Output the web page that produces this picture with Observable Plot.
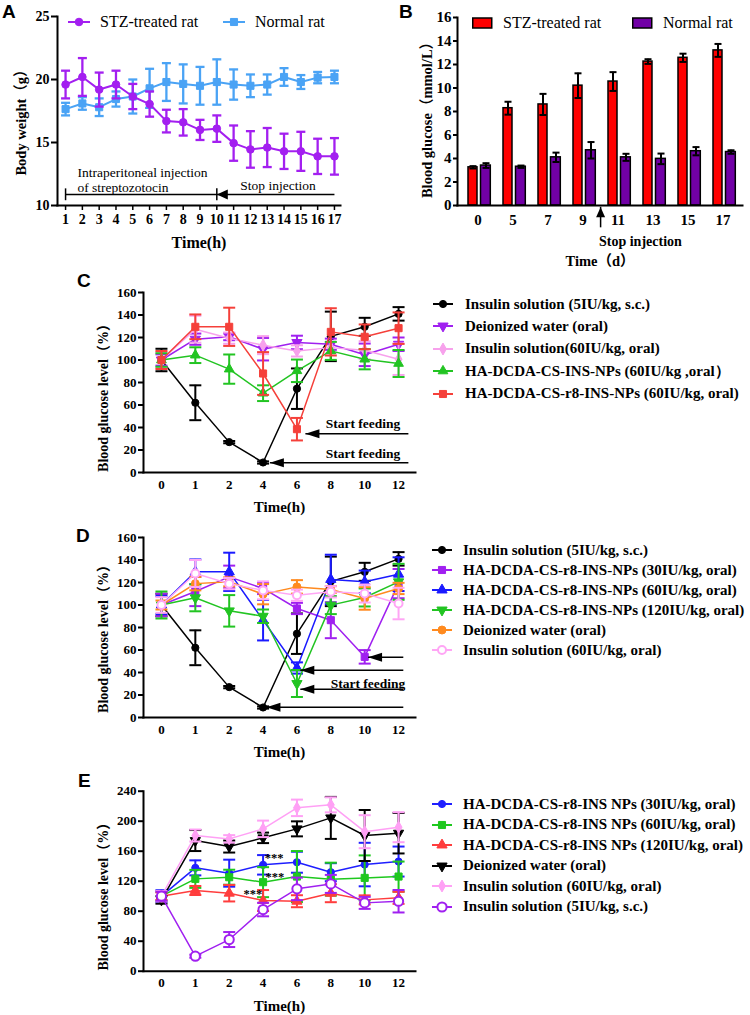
<!DOCTYPE html>
<html>
<head>
<meta charset="utf-8">
<script src="https://cdn.jsdelivr.net/npm/d3@7"></script>
<script src="https://cdn.jsdelivr.net/npm/@observablehq/plot@0.6"></script>
<style>
html,body{margin:0;padding:0;background:#fff;}
#fig{position:relative;width:750px;height:1015px;overflow:hidden;background:#fff;}
.letter{position:absolute;font-family:"Liberation Sans",Arial,sans-serif;font-weight:bold;font-size:19px;line-height:19px;color:#000;}
.leg{position:absolute;display:flex;align-items:center;white-space:nowrap;font-family:"Liberation Serif","Times New Roman",serif;color:#000;}
.leg svg{display:block;flex:none;}
</style>
</head>
<body>
<div id="fig"></div>
<script>
// ================= DATA =================
// Panel A – body weight (g)
const daysA = [1,2,3,4,5,6,7,8,9,10,11,12,13,14,15,16,17];
const stzWeight       = [19.6,20.2,19.2,19.6,18.65,18.05,16.7,16.6,16.0,16.1,14.95,14.45,14.6,14.3,14.3,13.9,13.9];
const stzWeightErr    = [1.1,1.5,1.35,1.1,1.0,1.0,0.9,1.05,0.8,1.05,1.4,1.45,1.55,1.4,1.55,1.4,1.45];
const normalWeight    = [17.65,18.1,17.8,18.45,18.65,19.3,19.8,19.65,19.5,19.8,19.6,19.5,19.6,20.2,19.8,20.15,20.2];
const normalWeightErr = [0.5,0.5,0.7,0.6,1.35,1.55,1.5,1.55,1.5,1.8,1.2,0.9,0.8,0.7,0.55,0.45,0.5];
const groupNames = ["STZ-treated rat","Normal rat"];
const injectionSpanA = [{from:1, to:10, y:10.87, capLow:10.38, capHigh:11.32}];
const stopArrowA = [{from:17, to:10, y:10.87}];
const notesA = [
  {x:1.71, y:12.64, text:"Intraperitoneal injection"},
  {x:1.71, y:11.45, text:"of streptozotocin"},
  {x:11.4, y:11.59, text:"Stop injection"}
];

// Panel B – blood glucose (mmol/L)
const daysB = ["0","5","7","9","11","13","15","17"];
const stzGlucose       = [3.25,8.28,8.6,10.2,10.55,12.25,12.57,13.2];
const stzGlucoseErr    = [0.1,0.55,0.9,1.05,0.8,0.2,0.35,0.55];
const normalGlucose    = [3.4,3.3,4.1,4.7,4.1,3.97,4.62,4.55];
const normalGlucoseErr = [0.2,0.1,0.4,0.7,0.3,0.45,0.35,0.15];
const stopArrowB = [{day:"9", tip:-0.15, tail:-1.9, labelY:-3.1, text:"Stop injection"}];

// Panels C–E – blood glucose level (%)
const timeLabels = ["0","1","2","4","6","8","10","12"];

const cNames = ["Insulin solution (5IU/kg, s.c.)","Deionized water (oral)","Insulin solution(60IU/kg, oral)","HA-DCDA-CS-INS-NPs (60IU/kg ,oral）","HA-DCDA-CS-r8-INS-NPs (60IU/kg, oral)"];
const cInsulinSC      = [100,62,27,8.9,74.5,121,129.5,141];
const cInsulinSCErr   = [10,15.5,1,1,18,22,8,6];
const cWater          = [100,118.5,120.6,109.6,115.6,114,104.6,114];
const cWaterErr       = [5,5,3,10,6,5,10,6];
const cInsulinOral    = [100,127.4,119.4,113.2,108.1,111,108.7,100.7];
const cInsulinOralErr = [7,12,5,8,5,5,8,14];
const cNPs            = [100,104.3,91.9,70.5,90.4,108.1,100.7,96.9];
const cNPsErr         = [6,7,13,7,10,8,9,12];
const cR8NPs          = [100,129.5,129.5,88,38.5,125,120.6,128.3];
const cR8NPsErr       = [8,11,17,19,10,21,11,14];
const feedArrowsC = [{from:7.29, to:4.25, y:34.4},{from:7.29, to:3.2, y:8.6}];
const feedTextC = [{x:7.05, y:43.3, text:"Start feeding"},{x:7.05, y:16.3, text:"Start feeding"}];

const dNames = ["Insulin solution (5IU/kg, s.c.)","HA-DCDA-CS-r8-INS-NPs (30IU/kg, oral)","HA-DCDA-CS-r8-INS-NPs (60IU/kg, oral)","HA-DCDA-CS-r8-INS-NPs (120IU/kg, oral)","Deionized water (oral)","Insulin solution (60IU/kg, oral)"];
const dInsulinSC      = [100,62,27,8.9,74.5,121,129.5,141];
const dInsulinSCErr   = [10,15.5,1,1,18,22,8,6];
const dR8Low          = [100,112,125,114.7,96.9,86.5,53.9,119];
const dR8LowErr       = [10,13,10,5,5,16,6,13];
const dR8Mid          = [100,129.5,129.5,86.5,44,122.7,120.6,127.4];
const dR8MidErr       = [8,11,17,18,5,22,10,15];
const dR8High         = [100,106.4,94.8,90,30.2,99.9,106.7,120.6];
const dR8HighErr      = [12,12,14,6,12,8,8,16];
const dWater          = [100,119,120.6,109.6,116.1,113.8,105.8,114.7];
const dWaterErr       = [4,6,4,9,6,3,10,5];
const dInsulinOral    = [100,128,119,113,108.7,111.7,110.2,101.3];
const dInsulinOralErr = [7,12,5,8,5,5,8,14];
const feedArrowsD = [{from:7.14, to:6.1, y:53.6},{from:7.14, to:4.1, y:42},{from:7.14, to:4.1, y:25.2},{from:7.14, to:3.1, y:9.2}];
const feedTextD = [{x:7.2, y:30.2, text:"Start feeding"}];

const eNames = ["HA-DCDA-CS-r8-INS NPs (30IU/kg, oral)","HA-DCDA-CS-r8-INS NPs (60IU/kg, oral)","HA-DCDA-CS-r8-INS NPs (120IU/kg, oral)","Deionized water (oral)","Insulin solution (60IU/kg, oral)","Insulin solution (5IU/kg, s.c.)"];
const eR8Low          = [100,137.8,130.7,141.8,145.3,132,142.2,146.2];
const eR8LowErr       = [8,10,18,13,14,12,29,20];
const eR8Mid          = [100,123.1,125.3,118.7,126.2,122.7,124.4,126.2];
const eR8MidErr       = [6,12,10,20,34,22,30,20];
const eR8High         = [100,107.6,104,94.2,93.3,104,95.1,97.8];
const eR8HighErr      = [5,6,11,14,8,12,6,8];
const eWater          = [95,174.2,166.2,177.8,189.8,204.4,180.9,184];
const eWaterErr       = [5,14,8,7,10,28,34,27];
const eInsulinOral    = [100,180.9,176.4,189.8,217.8,221.8,186,192];
const eInsulinOralErr = [7,8,5,11,11,10,22,20];
const eInsulinSC      = [100,20,42.2,82.2,109.8,116.4,91.1,93.3];
const eInsulinSCErr   = [6,2,10,9,15,12,8,15];
const starsE = [{x:3.33, y:151, text:"***"},{x:3.35, y:126, text:"***"},{x:2.7, y:103, text:"***"}];

// ================= HELPERS =================
const SERIF = '"Liberation Serif","Times New Roman",Times,"Noto Sans CJK SC",serif';
const fig = document.getElementById("fig");
function place(node, left, top){ node.style.position="absolute"; node.style.left=left+"px"; node.style.top=top+"px"; fig.appendChild(node); return node; }
function letter(t, left, top){ const d=document.createElement("div"); d.className="letter"; d.textContent=t; d.style.left=left+"px"; d.style.top=top+"px"; fig.appendChild(d); }

const capSym = (w) => ({draw(ctx){ ctx.moveTo(-w,0); ctx.lineTo(w,0); }});
const triDown = {draw(ctx,size){ const y=-Math.sqrt(size/(Math.sqrt(3)*3)); const x=Math.sqrt(3)*y; ctx.moveTo(0,-2*y); ctx.lineTo(x,y); ctx.lineTo(-x,y); ctx.closePath(); }};
const triLeft = (len,half) => ({draw(ctx){ ctx.moveTo(0,0); ctx.lineTo(len,-half); ctx.lineTo(len,half); ctx.closePath(); }});
const triUp = (len,half) => ({draw(ctx){ ctx.moveTo(0,0); ctx.lineTo(-half,len); ctx.lineTo(half,len); ctx.closePath(); }});
const SYM = {circle:d3.symbolCircle, square:d3.symbolSquare, triangle:d3.symbolTriangle, diamond:d3.symbolDiamond, triDown:triDown};

function baseStyle(fs){ return {fontFamily:SERIF, fontSize:fs+"px", fontWeight:"bold", background:"transparent", overflow:"visible", color:"#000"}; }
function xTitle(t, dy, fs){ return Plot.text([{t}],{text:"t", frameAnchor:"bottom", textAnchor:"middle", lineAnchor:"middle", dy, fontSize:fs}); }
function yTitle(t, dx, dy, fs){ return Plot.text([{t}],{text:"t", frameAnchor:"left", textAnchor:"middle", lineAnchor:"middle", dx, dy, rotate:-90, fontSize:fs}); }

function seriesMarks(xs, values, errors, st){
  const rows = values.map((v,i)=>({x:xs[i], v, e:errors[i]}));
  const ew = st.ew ?? 2, cw = st.cap ?? 6;
  return [
    Plot.ruleX(rows,{x:"x", y1:d=>d.v-d.e, y2:d=>d.v+d.e, stroke:st.color, strokeWidth:ew}),
    Plot.dot(rows,{x:"x", y:d=>d.v+d.e, symbol:capSym(cw), stroke:st.color, strokeWidth:ew, fill:"none"}),
    Plot.dot(rows,{x:"x", y:d=>d.v-d.e, symbol:capSym(cw), stroke:st.color, strokeWidth:ew, fill:"none"}),
    Plot.line(rows,{x:"x", y:"v", stroke:st.color, strokeWidth:st.lw ?? 1.5}),
    Plot.dot(rows,{x:"x", y:"v", symbol:SYM[st.symbol], r:st.r ?? 3.6, fill:st.hollow?"white":st.color, stroke:st.color, strokeWidth:st.hollow?2:1})
  ];
}

function legend(names, styles, left, cy0, step, textLeft, fontSize, weight, box){
  names.forEach((name,k)=>{
    const st = styles[k];
    const cy = cy0 + k*step;
    const row = document.createElement("div");
    row.className = "leg";
    row.style.left = left+"px"; row.style.top = (cy-10)+"px"; row.style.height="20px";
    row.style.fontSize = fontSize+"px"; row.style.fontWeight = weight;
    const svg = d3.create("svg").attr("width", textLeft-left).attr("height", 20);
    if (box) {
      svg.append("rect").attr("x",0.75).attr("y",5).attr("width",19).attr("height",10).attr("fill",st.color).attr("stroke","#000").attr("stroke-width",1.5);
    } else {
      svg.append("line").attr("x1",0).attr("x2",st.swatch ?? 20).attr("y1",10).attr("y2",10).attr("stroke",st.color).attr("stroke-width",2);
      const r = st.r ?? 3.6;
      svg.append("path").attr("transform",`translate(${(st.swatch ?? 20)/2},10)`).attr("d", d3.symbol(SYM[st.symbol], Math.PI*r*r)())
        .attr("fill", st.hollow?"white":st.color).attr("stroke", st.color).attr("stroke-width", st.hollow?2:1);
    }
    row.appendChild(svg.node());
    const span = document.createElement("span"); span.textContent = name; row.appendChild(span);
    fig.appendChild(row);
  });
}

// ================= PANEL A =================
const stylesA = [
  {color:"#a31ff0", symbol:"circle", r:3.8, lw:2, ew:2.3, cap:4.5, swatch:22},
  {color:"#4aa3f5", symbol:"square", r:4, lw:2, ew:2.3, cap:4.5, swatch:22}
];
const plotA = Plot.plot({
  width:370, height:260, marginLeft:57, marginRight:30, marginTop:16, marginBottom:55,
  style: baseStyle(14),
  x:{domain:[0.52,17.36]}, y:{domain:[10,25]},
  marks:[
    Plot.frame({anchor:"left", strokeWidth:2}),
    Plot.frame({anchor:"bottom", strokeWidth:2}),
    Plot.axisY({ticks:[10,15,20,25], tickSize:6, tickPadding:2, strokeWidth:2, label:null}),
    Plot.axisX({ticks:daysA, tickSize:5, tickPadding:4, strokeWidth:1.5, label:null}),
    xTitle("Time(h)", 37, 16),
    yTitle("Body weight（g）", -36, 8, 14.5),
    ...seriesMarks(daysA, normalWeight, normalWeightErr, stylesA[1]),
    ...seriesMarks(daysA, stzWeight, stzWeightErr, stylesA[0]),
    Plot.link(injectionSpanA,{x1:"from", x2:"to", y1:"y", y2:"y", stroke:"#000", strokeWidth:1.5}),
    Plot.ruleX(injectionSpanA,{x:"from", y1:"capLow", y2:"capHigh", stroke:"#000", strokeWidth:1.5}),
    Plot.ruleX(injectionSpanA,{x:"to", y1:"capLow", y2:"capHigh", stroke:"#000", strokeWidth:1.5}),
    Plot.link(stopArrowA,{x1:"from", x2:"to", y1:"y", y2:"y", stroke:"#000", strokeWidth:1.5}),
    Plot.dot(stopArrowA,{x:"to", y:"y", symbol:triLeft(11,5), fill:"#000", stroke:"none"}),
    Plot.text(notesA,{x:"x", y:"y", text:"text", textAnchor:"start", fontWeight:"normal", fontSize:13.5})
  ]
});
place(plotA, 0, 0);
legend([groupNames[0]], [stylesA[0]], 68, 22, 0, 100, 16, "normal");
legend([groupNames[1]], [stylesA[1]], 223, 22, 0, 255, 16, "normal");
letter("A", 2, 2);

// ================= PANEL B =================
const rowsB = daysB.map((d,i)=>({day:d, stz:stzGlucose[i], stzE:stzGlucoseErr[i], nor:normalGlucose[i], norE:normalGlucoseErr[i]}));
const stylesB = [{color:"#ff0000"},{color:"#7100a6"}];
const plotB = Plot.plot({
  width:380, height:270, marginLeft:87, marginRight:8, marginTop:17, marginBottom:65,
  style: baseStyle(15),
  x:{type:"band", domain:daysB, paddingInner:0, paddingOuter:0.05}, y:{domain:[0,16]},
  marks:[
    Plot.barY(rowsB,{x:"day", y:"stz", fill:stylesB[0].color, stroke:"#000", strokeWidth:1.5, insetLeft:8, insetRight:18}),
    Plot.barY(rowsB,{x:"day", y:"nor", fill:stylesB[1].color, stroke:"#000", strokeWidth:1.5, insetLeft:20.5, insetRight:4.7}),
    Plot.ruleX(rowsB,{x:"day", y1:d=>d.stz-d.stzE, y2:d=>d.stz+d.stzE, dx:-5, stroke:"#000", strokeWidth:2}),
    Plot.dot(rowsB,{x:"day", y:d=>d.stz+d.stzE, dx:-5, symbol:capSym(3.5), stroke:"#000", strokeWidth:2, fill:"none"}),
    Plot.dot(rowsB,{x:"day", y:d=>d.stz-d.stzE, dx:-5, symbol:capSym(3.5), stroke:"#000", strokeWidth:2, fill:"none"}),
    Plot.ruleX(rowsB,{x:"day", y1:d=>d.nor-d.norE, y2:d=>d.nor+d.norE, dx:8, stroke:"#000", strokeWidth:2}),
    Plot.dot(rowsB,{x:"day", y:d=>d.nor+d.norE, dx:8, symbol:capSym(3.5), stroke:"#000", strokeWidth:2, fill:"none"}),
    Plot.dot(rowsB,{x:"day", y:d=>d.nor-d.norE, dx:8, symbol:capSym(3.5), stroke:"#000", strokeWidth:2, fill:"none"}),
    Plot.frame({anchor:"left", strokeWidth:2}),
    Plot.frame({anchor:"bottom", strokeWidth:2}),
    Plot.axisY({ticks:d3.range(0,17,2), tickSize:4, tickPadding:2, strokeWidth:2, label:null}),
    Plot.axisX({tickSize:0, tickPadding:9, label:null}),
    Plot.ruleX(stopArrowB,{x:"day", y1:"tail", y2:"tip", dx:17.6, stroke:"#000", strokeWidth:1.5}),
    Plot.dot(stopArrowB,{x:"day", y:"tip", dx:17.6, symbol:triUp(10,4.5), fill:"#000", stroke:"none"}),
    Plot.text(stopArrowB,{x:"day", y:"labelY", text:"text", dx:16, textAnchor:"start", fontSize:14}),
    xTitle("Time（d）", 56, 14.5),
    yTitle("Blood glucose（mmol/L）", -30, 5, 14.5)
  ]
});
place(plotB, 370, 0);
legend([groupNames[0]], [stylesB[0]], 472, 23, 0, 503, 16, "normal", true);
legend([groupNames[1]], [stylesB[1]], 632, 23, 0, 663, 16, "normal", true);
letter("B", 399, 2);

// ================= PANELS C, D, E =================
const idx = d3.range(timeLabels.length);
function linePanel({top, height, mt, mb, yMax, yStep, yLabelDy, seriesList, styles, extra}){
  const marks = [
    Plot.frame({anchor:"left", strokeWidth:2}),
    Plot.frame({anchor:"bottom", strokeWidth:2}),
    Plot.axisY({ticks:d3.range(0,yMax+1,yStep), tickSize:5, tickPadding:2, strokeWidth:2, label:null}),
    Plot.axisX({ticks:idx, tickFormat:i=>timeLabels[i], tickSize:0, tickPadding:7, label:null}),
    xTitle("Time(h)", 35, 15),
    yTitle("Blood glucose level（%）", -40, yLabelDy, 14)
  ];
  seriesList.forEach((s,k)=>marks.push(...seriesMarks(idx, s[0], s[1], styles[k])));
  marks.push(...extra);
  const p = Plot.plot({
    width:430, height, marginLeft:143, marginRight:15, marginTop:mt, marginBottom:mb,
    style: baseStyle(13),
    x:{domain:[-0.53,7.5]}, y:{domain:[0,yMax]},
    marks
  });
  place(p, 0, top);
}
function arrowMarks(arrows){
  return [
    Plot.link(arrows,{x1:"from", x2:"to", y1:"y", y2:"y", stroke:"#000", strokeWidth:1.5}),
    Plot.dot(arrows,{x:"to", y:"y", symbol:triLeft(14,4.5), fill:"#000", stroke:"none"})
  ];
}

// C
const stylesC = [
  {color:"#000000", symbol:"circle", r:3.6},
  {color:"#a020f0", symbol:"triDown", r:3.8},
  {color:"#f7a1ec", symbol:"diamond", r:3.6},
  {color:"#22c422", symbol:"triangle", r:3.6},
  {color:"#f5403a", symbol:"square", r:4}
];
linePanel({top:280, height:240, mt:12, mb:48, yMax:160, yStep:20, yLabelDy:12,
  seriesList:[[cInsulinSC,cInsulinSCErr],[cWater,cWaterErr],[cInsulinOral,cInsulinOralErr],[cNPs,cNPsErr],[cR8NPs,cR8NPsErr]],
  styles:stylesC,
  extra:[...arrowMarks(feedArrowsC), Plot.text(feedTextC,{x:"x", y:"y", text:"text", textAnchor:"end", fontSize:13.5})]
});
legend(cNames, stylesC, 433, 304, 22.4, 465, 15, "bold");
letter("C", 77, 271);

// D
const stylesD = [
  {color:"#000000", symbol:"circle", r:3.6},
  {color:"#a020f0", symbol:"square", r:4},
  {color:"#1a1aff", symbol:"triangle", r:3.8},
  {color:"#22c422", symbol:"triDown", r:3.8},
  {color:"#ff8a1f", symbol:"circle", r:4},
  {color:"#ffa6f5", symbol:"circle", r:4, hollow:true}
];
linePanel({top:525, height:240, mt:12, mb:48, yMax:160, yStep:20, yLabelDy:8,
  seriesList:[[dInsulinSC,dInsulinSCErr],[dR8Low,dR8LowErr],[dR8Mid,dR8MidErr],[dR8High,dR8HighErr],[dWater,dWaterErr],[dInsulinOral,dInsulinOralErr]],
  styles:stylesD,
  extra:[...arrowMarks(feedArrowsD), Plot.text(feedTextD,{x:"x", y:"y", text:"text", textAnchor:"end", fontSize:13.5})]
});
legend(dNames, stylesD, 432, 550, 20, 463, 15, "bold");
letter("D", 76, 526);

// E
const stylesE = [
  {color:"#1f1fff", symbol:"circle", r:3.6},
  {color:"#1ec81e", symbol:"square", r:4},
  {color:"#ff3d3d", symbol:"triangle", r:3.8},
  {color:"#000000", symbol:"triDown", r:3.8},
  {color:"#ffa0f5", symbol:"diamond", r:3.6},
  {color:"#a020f0", symbol:"circle", r:4.6, hollow:true}
];
linePanel({top:778, height:237, mt:12.7, mb:44.3, yMax:240, yStep:40, yLabelDy:12,
  seriesList:[[eR8Low,eR8LowErr],[eR8Mid,eR8MidErr],[eR8High,eR8HighErr],[eWater,eWaterErr],[eInsulinOral,eInsulinOralErr],[eInsulinSC,eInsulinSCErr]],
  styles:stylesE,
  extra:[Plot.text(starsE,{x:"x", y:"y", text:"text", fontSize:12.5})]
});
legend(eNames, stylesE, 432, 804, 20.5, 463, 15, "bold");
letter("E", 78, 771);
</script>
</body>
</html>
